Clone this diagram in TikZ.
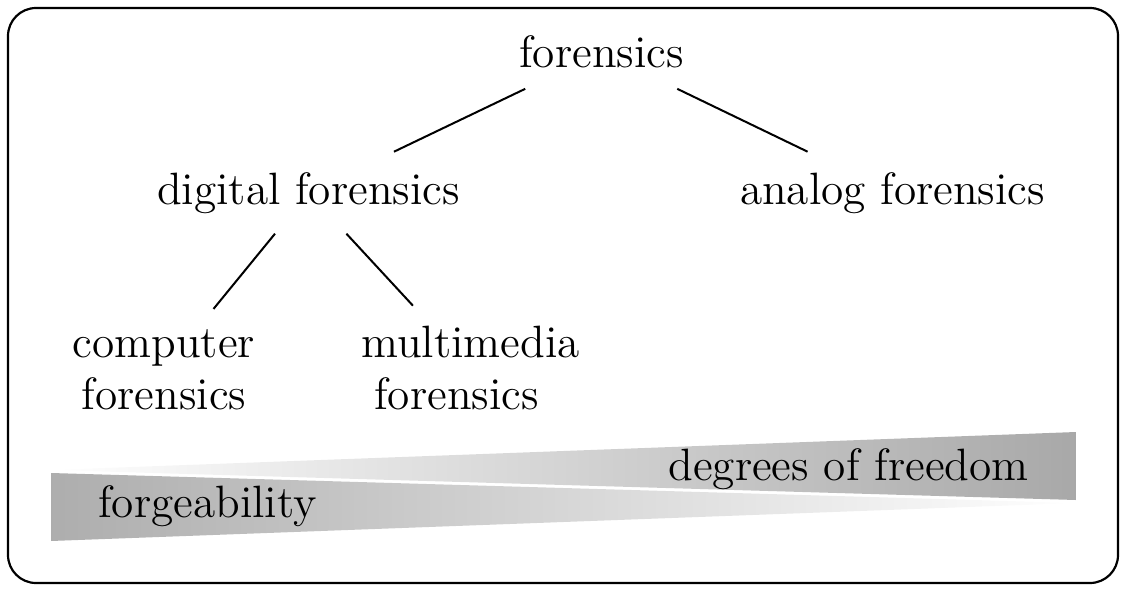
\documentclass[tikz,border=0pt]{standalone}
\begin{document}
\begin{tikzpicture}[x=0.2747pt,y=-0.2747pt,
  lbl/.style={font=\fontsize{12.45}{14.3}\selectfont, inner sep=5.4pt, align=center},
  edge/.style={line width=0.55pt},
  frame/.style={line width=0.6pt, rounded corners=7.7pt}]
\useasboundingbox (0,0) rectangle (1126,590);
\draw[frame] (8,8) rectangle (1118,583);
% wedges
\shade[left color=white, right color=black!34] (51,470) -- (1076,432) -- (1076,500) -- cycle;
\shade[left color=black!32, right color=white] (51,473) -- (1076,503) -- (51,541) -- cycle;
\node[lbl, anchor=base] (dof) at (848.5,480) {degrees of freedom};
\node[lbl, anchor=base] (forg) at (207.5,517) {forgeability};
% tree
\node[lbl, anchor=base] (f) at (601.5,68) {forensics};
\node[lbl, anchor=base] (d) at (308.5,204) {digital forensics};
\node[lbl, anchor=base] (a) at (892.5,204) {analog forensics};
\node[lbl] (c) at (164,369.5) {computer\\forensics};
\node[lbl] (m) at (470.5,368) {multimedia\\forensics\hspace*{7.7pt}};
\draw[edge] (f) -- (d);
\draw[edge] (f) -- (a);
\draw[edge] (d) -- (c);
\draw[edge] (d) -- (m);
\end{tikzpicture}
\end{document}
